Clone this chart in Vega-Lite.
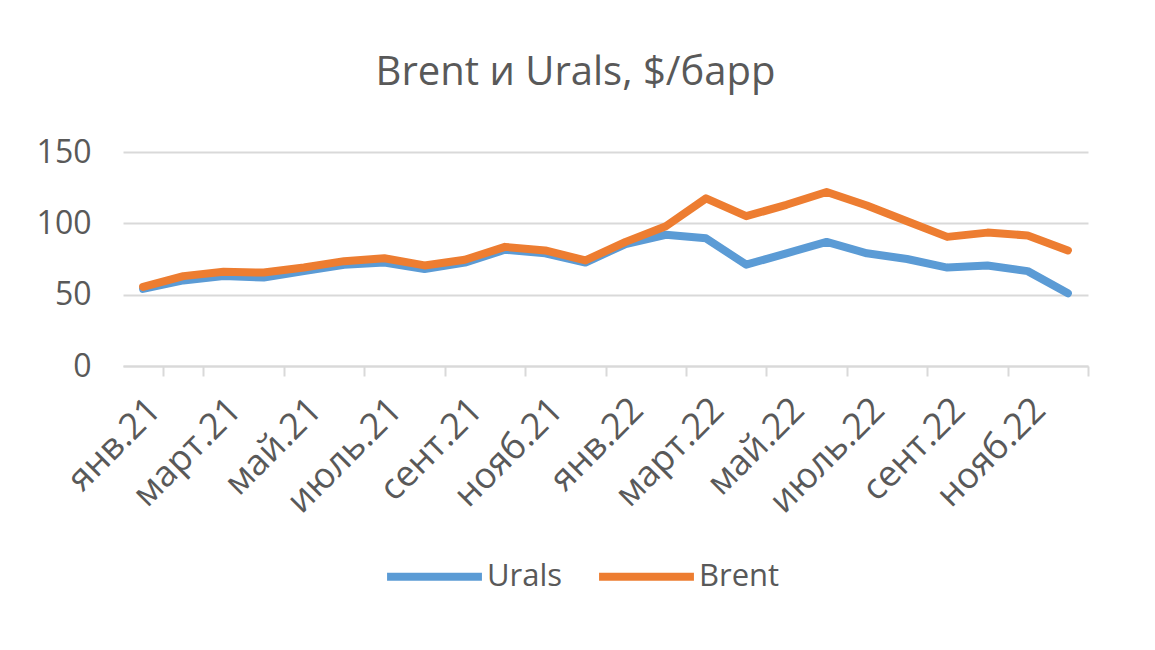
{
  "$schema": "https://vega.github.io/schema/vega-lite/v6.json",
  "width": 965,
  "height": 214,
  "autosize": {"type": "none"},
  "padding": {"left": 123, "top": 152, "right": 67, "bottom": 284},
  "background": "white",
  "config": {
    "font": "Open Sans",
    "view": {"stroke": null}
  },
  "title": {
    "text": "Brent и Urals, $/барр",
    "fontSize": 40,
    "fontWeight": "normal",
    "color": "#595959",
    "anchor": "middle",
    "dx": -30,
    "offset": 43
  },
  "data": {
    "values": [
      {"m": "янв.21", "Urals": 54, "Brent": 55.5},
      {"m": "февр.21", "Urals": 60, "Brent": 63},
      {"m": "март.21", "Urals": 63, "Brent": 66},
      {"m": "апр.21", "Urals": 62, "Brent": 65.5},
      {"m": "май.21", "Urals": 66.5, "Brent": 69},
      {"m": "июнь.21", "Urals": 71, "Brent": 73.5},
      {"m": "июль.21", "Urals": 72.5, "Brent": 75.5},
      {"m": "авг.21", "Urals": 68, "Brent": 70.5},
      {"m": "сент.21", "Urals": 72.5, "Brent": 74.5},
      {"m": "окт.21", "Urals": 81.5, "Brent": 83.5},
      {"m": "нояб.21", "Urals": 79, "Brent": 81},
      {"m": "дек.21", "Urals": 72.5, "Brent": 74},
      {"m": "янв.22", "Urals": 85.5, "Brent": 87},
      {"m": "февр.22", "Urals": 92, "Brent": 98},
      {"m": "март.22", "Urals": 89.5, "Brent": 117.5},
      {"m": "апр.22", "Urals": 71, "Brent": 105},
      {"m": "май.22", "Urals": 79, "Brent": 113},
      {"m": "июнь.22", "Urals": 87, "Brent": 122},
      {"m": "июль.22", "Urals": 79, "Brent": 112.5},
      {"m": "авг.22", "Urals": 75, "Brent": 101.5},
      {"m": "сент.22", "Urals": 69, "Brent": 90.5},
      {"m": "окт.22", "Urals": 70.5, "Brent": 93.5},
      {"m": "нояб.22", "Urals": 66.5, "Brent": 91.5},
      {"m": "дек.22", "Urals": 51, "Brent": 81}
    ]
  },
  "transform": [{"fold": ["Urals", "Brent"], "as": ["series", "value"]}],
  "encoding": {
    "y": {
      "field": "value",
      "type": "quantitative",
      "scale": {"domain": [0, 150], "nice": false},
      "axis": {
        "title": null,
        "values": [0, 50, 100, 150],
        "labelFontSize": 32,
        "labelColor": "#595959",
        "labelPadding": 32,
        "ticks": false,
        "domain": false,
        "grid": true,
        "gridColor": "#d9d9d9",
        "gridWidth": 2
      }
    },
    "color": {
      "field": "series",
      "type": "nominal",
      "scale": {"domain": ["Urals", "Brent"], "range": ["#5b9bd5", "#ed7d31"]},
      "legend": {
        "title": null,
        "orient": "none",
        "legendX": 260,
        "legendY": 373,
        "direction": "horizontal",
        "symbolType": "stroke",
        "symbolSize": 9000,
        "symbolStrokeWidth": 8,
        "labelFontSize": 31,
        "labelColor": "#595959",
        "labelOffset": 1,
        "columnPadding": 20
      }
    }
  },
  "layer": [
    {
      "transform": [{"filter": "datum.series === 'Urals'"}],
      "mark": {"type": "line", "strokeWidth": 8, "strokeCap": "round", "strokeJoin": "round"},
      "encoding": {
        "x": {
          "field": "m",
          "type": "ordinal",
          "sort": null,
          "scale": {"type": "band", "paddingInner": 0, "paddingOuter": 0},
          "axis": {
            "title": null,
            "orient": "bottom",
            "values": ["февр.21", "апр.21", "июнь.21", "авг.21", "окт.21", "дек.21", "февр.22", "апр.22", "июнь.22", "авг.22", "окт.22", "дек.22"],
            "tickBand": "extent",
            "labels": false,
            "tickSize": 10,
            "tickColor": "#d9d9d9",
            "tickWidth": 2,
            "domainColor": "#d9d9d9",
            "domainWidth": 2,
            "grid": false
          }
        }
      }
    },
    {
      "transform": [{"filter": "datum.series === 'Brent'"}],
      "mark": {"type": "line", "strokeWidth": 8, "strokeCap": "round", "strokeJoin": "round"},
      "encoding": {
        "x": {
          "field": "m",
          "type": "ordinal",
          "sort": null,
          "axis": {
            "title": null,
            "orient": "bottom",
            "values": ["янв.21", "март.21", "май.21", "июль.21", "сент.21", "нояб.21", "янв.22", "март.22", "май.22", "июль.22", "сент.22", "нояб.22"],
            "labelAngle": -45,
            "labelFontSize": 36,
            "labelColor": "#595959",
            "labelPadding": 26,
            "ticks": false,
            "domain": false,
            "grid": false
          }
        }
      }
    }
  ],
  "resolve": {"axis": {"x": "independent"}}
}
